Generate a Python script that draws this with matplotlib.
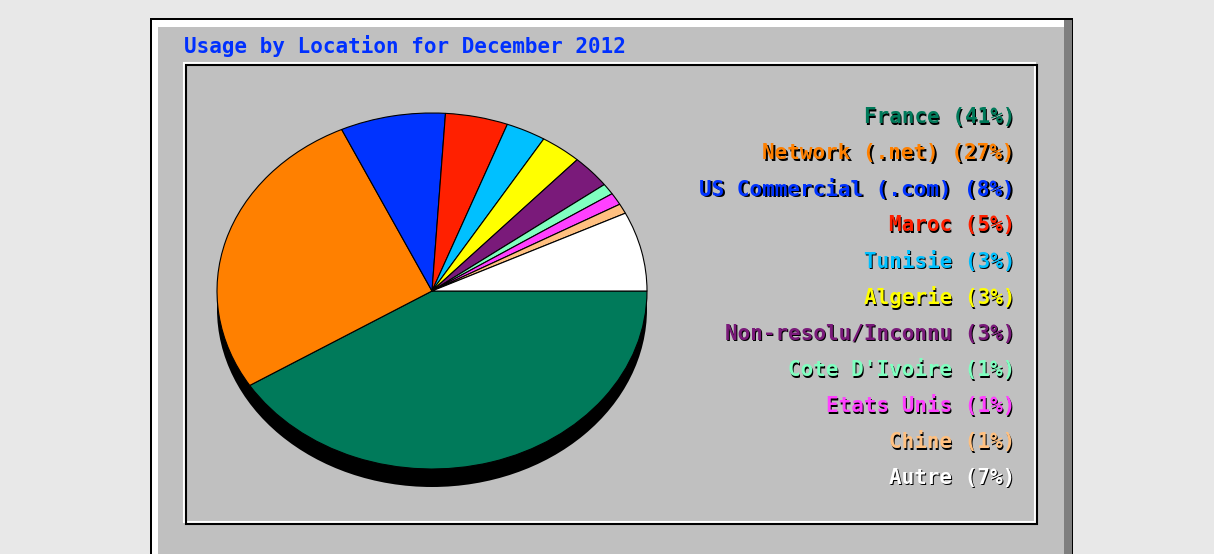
import matplotlib
matplotlib.use("Agg")
import matplotlib.pyplot as plt
from matplotlib.patches import Rectangle, Ellipse

# data (share of usage, %)
locations = ["France", "Network (.net)", "US Commercial (.com)", "Maroc", "Tunisie",
             "Algerie", "Non-resolu/Inconnu", "Cote D'Ivoire", "Etats Unis", "Chine", "Autre"]
shares = [41.1, 27.0, 7.9, 4.7, 3.0, 3.1, 3.0, 1.0, 1.1, 0.9, 7.2]
colors = ["#007a5a", "#ff8000", "#0033ff", "#ff2000", "#00c0ff", "#ffff00",
          "#7a1a7a", "#80ffc0", "#ff40ff", "#ffc080", "#ffffff"]
title = "Usage by Location for December 2012"

W, H = 1214, 554
fig = plt.figure(figsize=(W / 100, H / 100), dpi=100)
fig.patch.set_facecolor("#e8e8e8")

# background axes in pixel coordinates
bg = fig.add_axes([0, 0, 1, 1])
bg.set_xlim(0, W)
bg.set_ylim(H, 0)
bg.axis("off")

# raised outer panel
bg.add_patch(Rectangle((150, 18), 923, 560, facecolor="#000000", edgecolor="none"))
bg.add_patch(Rectangle((152, 20), 920, 560, facecolor="#7f7f7f", edgecolor="none"))
bg.add_patch(Rectangle((152, 20), 912, 560, facecolor="#ffffff", edgecolor="none"))
bg.add_patch(Rectangle((158, 27), 906, 560, facecolor="#c0c0c0", edgecolor="none"))

# sunken inner frame
bg.add_patch(Rectangle((184, 63), 851, 459, facecolor="none", edgecolor="#ffffff", lw=1.5))
bg.add_patch(Rectangle((186, 65), 851, 459, facecolor="none", edgecolor="#000000", lw=1.5))

mono = dict(family="DejaVu Sans Mono", fontweight="bold", fontsize=15)
bg.text(184, 46, title, color="#0030ff", ha="left", va="center", **mono)

# legend on the right with drop shadow
y0, dy = 117, 36.1
for i, (name, val, col) in enumerate(zip(locations, shares, colors)):
    label = f"{name} ({round(val)}%)"
    y = y0 + i * dy
    bg.text(1015 + 1.5, y + 1.5, label, color="#000000", ha="right", va="center", **mono)
    bg.text(1015, y, label, color=col, ha="right", va="center", **mono)

# pie axes stretched into an ellipse
cx, cy, rx, ry = 432, 291, 215, 178
pax = fig.add_axes([(cx - rx) / W, (H - cy - ry) / H, 2 * rx / W, 2 * ry / H])
pax.patch.set_visible(False)
shadow = Ellipse((0, -18 / ry), 2, 2, facecolor="#000000", edgecolor="none", zorder=0)
shadow.set_clip_on(False)
pax.add_patch(shadow)
wedges, _ = pax.pie(shares, colors=colors, startangle=0, counterclock=False,
                    wedgeprops=dict(edgecolor="#000000", linewidth=0.8))
for w in wedges:
    w.set_clip_on(False)
    w.set_zorder(2)
pax.set_aspect("auto")
pax.set_xlim(-1, 1)
pax.set_ylim(-1, 1)
pax.axis("off")

fig.savefig("out.png", dpi=100, facecolor=fig.get_facecolor())
